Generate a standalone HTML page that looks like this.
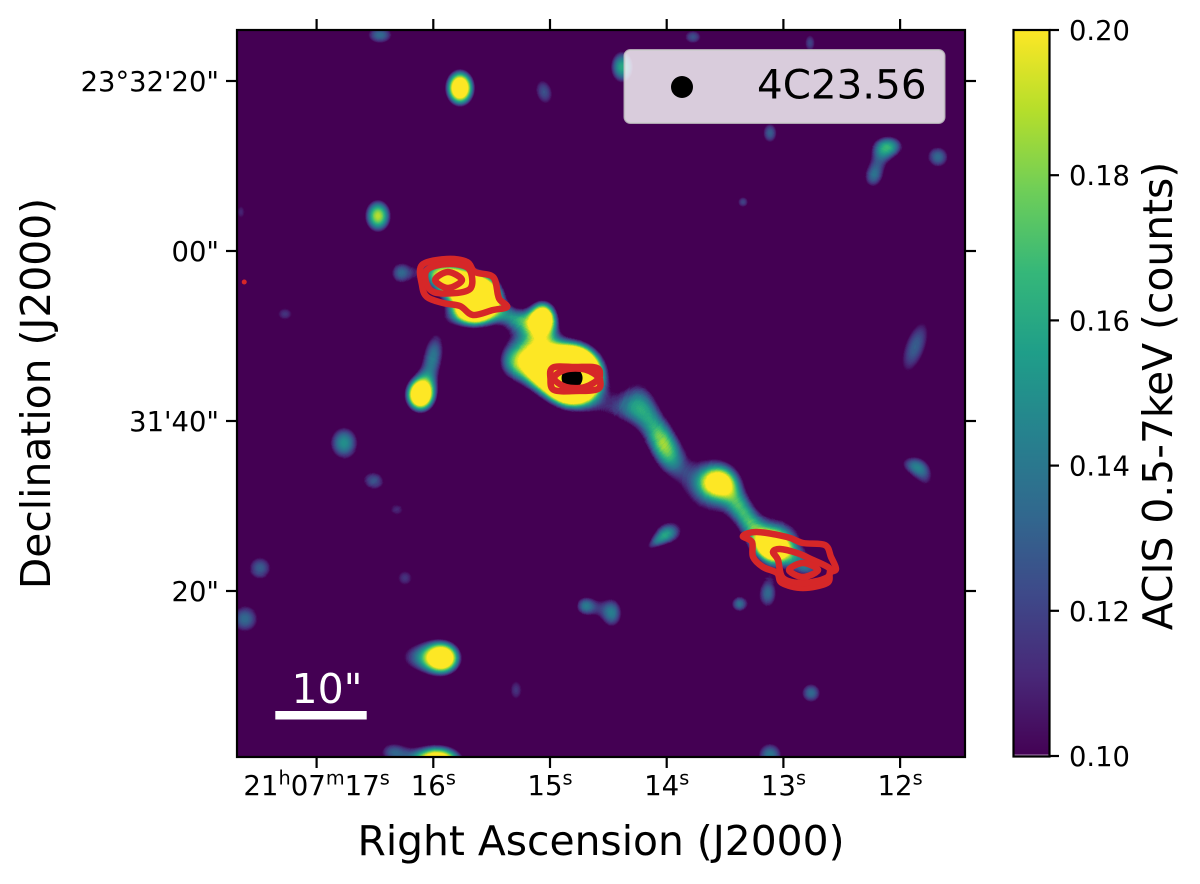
<!DOCTYPE html>
<html lang="en">
<head>
<meta charset="utf-8">
<title>4C23.56 ACIS map</title>
<style>
html,body{margin:0;padding:0;background:#fff;}
svg{display:block;font-family:"DejaVu Sans","Liberation Sans",sans-serif;}
</style>
</head>
<body>
<svg id="fig" xmlns="http://www.w3.org/2000/svg" width="1200" height="884" viewBox="0 0 1200 884">
  <defs>
    <clipPath id="plot-clip"><rect x="237" y="30" width="728" height="727"/></clipPath>
    <radialGradient id="gauss"></radialGradient>
    <linearGradient id="cbar-grad" x1="0" y1="1" x2="0" y2="0"></linearGradient>
    <filter id="viridis-map" filterUnits="userSpaceOnUse" x="237" y="30" width="728" height="727" color-interpolation-filters="sRGB">
      <feColorMatrix type="matrix" values="0 0 0 1 0  0 0 0 1 0  0 0 0 1 0  0 0 0 0 1"/>
      <feComponentTransfer>
        <feFuncR id="fr" type="table" tableValues="0 1"/>
        <feFuncG id="fg" type="table" tableValues="0 1"/>
        <feFuncB id="fb" type="table" tableValues="0 1"/>
      </feComponentTransfer>
    </filter>
  </defs>
  <rect x="0" y="0" width="1200" height="884" fill="#fff"/>
  <g clip-path="url(#plot-clip)">
    <rect x="237" y="30" width="728" height="727" fill="#440154"/>
    <g id="heat" filter="url(#viridis-map)"></g>
    <g id="marker-layer"></g>
    <g id="contours" fill="none" stroke="#d62728" stroke-width="6.5" stroke-linejoin="round"></g>
    <rect x="275.3" y="711" width="91.4" height="8.5" fill="#fff"/>
    <text x="327" y="703" text-anchor="middle" font-size="41" fill="#fff">10"</text>
    <rect x="624.5" y="50" width="320" height="73" rx="6" ry="6" fill="#fff" fill-opacity="0.8" stroke="#ccc" stroke-opacity="0.8" stroke-width="2"/>
    <circle cx="682" cy="87" r="11" fill="#000"/>
    <text x="757" y="98.5" font-size="40.4" fill="#000">4C23.56</text>
  </g>
  <rect x="237" y="30" width="728" height="727" fill="none" stroke="#000" stroke-width="2.2"/>
  <g id="x-axis"></g>
  <g id="y-axis"></g>
  <text x="601" y="855" text-anchor="middle" font-size="40.8" fill="#000">Right Ascension (J2000)</text>
  <text transform="translate(50,393.5) rotate(-90)" text-anchor="middle" font-size="40.8" fill="#000">Declination (J2000)</text>
  <rect x="1013.5" y="30" width="36" height="726.5" fill="url(#cbar-grad)"/>
  <rect x="1014.5" y="754.5" width="34" height="1" fill="#b08ab8"/>
  <rect x="1013.5" y="30" width="36" height="726.5" fill="none" stroke="#000" stroke-width="2.2"/>
  <g id="cbar-axis"></g>
  <text transform="translate(1172,396) rotate(-90)" text-anchor="middle" font-size="40.8" fill="#000">ACIS 0.5-7keV (counts)</text>
</svg>
<script>
// ---- Chart data (sky coordinates: RA seconds past 21h07m, Dec arcsec from 23d31'40") ----
const raTicks = [17, 16, 15, 14, 13, 12];
const raTickLabels = [
  [['21', 0], ['h', 1], ['07', 0], ['m', 1], ['17', 0], ['s', 1]],
  [['16', 0], ['s', 1]],
  [['15', 0], ['s', 1]],
  [['14', 0], ['s', 1]],
  [['13', 0], ['s', 1]],
  [['12', 0], ['s', 1]]
];
const decTicks = [40, 20, 0, -20];
const decTickLabels = ['23\u00B032\'20"', '00"', '31\'40"', '20"'];
const cbarTicks = [0.10, 0.12, 0.14, 0.16, 0.18, 0.20];
const cbarTickLabels = ['0.10', '0.12', '0.14', '0.16', '0.18', '0.20'];

const srcRa = [16.457,15.771,15.051,16.474,17.648,17.271,16.003,16.114,16.765,16.508,16.311,17.485,16.243,17.614,15.917,16.157,15.968,16.354,13.115,12.763,13.380,13.132,14.700,14.469,13.989,14.126,11.872,11.915,11.787,15.291,12.095,12.172,12.232,11.675,14.383,12.772,13.775,13.115,13.346,16.285,15.617,15.814,15.977,15.686,15.060,15.171,15.300,14.811,15.086,15.326,14.246,14.469,14.143,14.015,13.560,13.612,13.329,13.098,13.046,12.858,12.815];
const srcDec = [45.41,39.18,38.71,24.12,24.59,12.59,7.53,3.06,-2.59,-7.06,-10.47,-17.29,-18.47,-23.29,-27.88,-27.76,-40.12,-38.94,-39.29,-32,-21.53,-20.24,-21.76,-22.59,-13.18,-14.59,8.71,-5.18,-6.71,-31.65,32.35,30.71,28.59,31.06,41.65,44.47,45.18,33.88,25.76,17.41,14.59,16.35,17.53,12.47,12.12,10.12,12.12,5.41,6.59,6.82,2.71,1.29,0.12,-3.06,-7.18,-7.65,-11.06,-14.94,-13.41,-16.35,-17.53];
const srcSigmaEW = [1.53,1.12,1.18,1.18,.82,1.29,1.18,1.12,1.53,1.41,1.29,1.47,1.29,1.65,1.41,2.12,2,1.53,1.41,1.18,.94,1.06,1.06,1.18,1.41,1.41,1.41,1.53,1.18,1.06,1.53,1.1,1.1,1.29,1.18,.82,1.18,.94,.82,1.18,1.65,1.53,1.65,1.76,1.06,2.12,1.53,1.9,1.53,1.41,1.8,2.35,1.29,1.41,1.23,2.7,1.06,1.23,2.35,2.59,1.41];
const srcSigmaNS = [1.06,1.41,1.76,1.47,1.29,1.06,2.71,1.29,1.76,1.18,1.06,1.47,1.29,1.65,1.29,1.65,1.29,1.18,1.41,1.18,.94,1.76,1.06,1.65,1.18,.59,3.53,.94,2.12,1.65,1.06,1.41,1.29,1.29,1.65,1.29,.94,1.29,.82,1.29,1.53,1.18,1.18,1.06,1.29,1.88,.94,1.9,1.76,1.65,2.5,1.41,2.12,2.35,1.02,2.8,2.59,1.02,1.88,1.18,.82];
const srcCounts = [.135,.26,.125,.19,.11,.115,.14,.26,.15,.125,.11,.13,.115,.135,.24,.11,.26,.12,.14,.135,.135,.135,.135,.14,.125,.085,.13,.09,.095,.115,.14,.06,.115,.135,.16,.12,.125,.13,.12,.125,.40,.22,.13,.14,.24,.09,.10,.62,.22,.125,.10,.078,.045,.165,.12,.145,.12,.20,.13,.09,.06];
const srcTilt = [0,0,-15,0,0,0,10,0,0,0,0,0,0,0,0,0,0,0,0,0,0,0,0,0,0,-35,20,15,-20,0,0,20,10,0,0,0,0,0,0,0,0,0,0,0,0,0,20,0,0,0,0,0,-25,-20,0,0,-30,20,0,25,0];

const nucleusRa = [14.811];
const nucleusDec = [5.06];

const contourNeOuter = [[16.097,18.35],[15.883,19.06],[15.711,18.71],[15.643,17.53],[15.488,16.94],[15.446,14.82],[15.428,14.24],[15.368,13.41],[15.488,13.06],[15.660,12.47],[15.771,13.53],[15.917,13.88],[16.054,14.59],[16.097,16.0]];
const contourNeMid = [[16.054,17.76],[15.883,18.47],[15.703,18.0],[15.668,16.0],[15.745,15.18],[15.968,15.06],[16.054,16.0]];
const contourNeInner = [[15.985,16.59],[15.874,17.53],[15.754,16.59],[15.874,15.65]];
const contourCoreOuter = [[14.974,6.29],[14.786,6.35],[14.597,6.24],[14.572,5.06],[14.589,3.76],[14.786,3.53],[14.966,3.65],[14.996,4.94]];
const contourCoreInner = [[14.966,5.06],[14.863,6.06],[14.700,6.06],[14.589,5.06],[14.700,4.0],[14.863,4.0]];
const contourSwOuter = [[13.346,-13.53],[13.226,-13.06],[12.969,-13.65],[12.832,-14.35],[12.644,-14.59],[12.592,-16],[12.549,-17.41],[12.601,-17.88],[12.626,-19.06],[12.832,-19.65],[13.012,-19.06],[13.055,-17.88],[13.175,-17.18],[13.260,-16],[13.269,-14.24]];
const contourSwMid = [[13.089,-15.41],[13.029,-15.06],[12.883,-15.53],[12.746,-16.35],[12.635,-17.06],[12.601,-17.53],[12.635,-18.47],[12.832,-19.06],[13.003,-18.47],[13.046,-16.35]];
const contourSwInner = [[12.952,-17.53],[12.832,-16.71],[12.703,-17.53],[12.832,-18.35]];
const contourSpeck = [[17.62,16.35]];

const viridisStops = ['#440154','#482878','#3e4989','#31688e','#26828e','#1f9e89','#35b779','#6ece58','#b5de2b','#fde725'];

// ---- Axis functions ----
const xOfRa = ra => 550 - (ra - 15) * 116.7;
const yOfDec = d => 421 - d * 8.5;
const pxOfArcsec = a => a * 8.5;
const yOfCounts = c => 756 - (c - 0.1) / 0.1 * 726;
// counts -> intensity fed to the colormap filter (0.10 -> 0.15, 0.20 -> 0.30)
const intensityOfCounts = c => c * 1.5;
const BLOB_EXTENT = 3.2 * 1.15;

const NS = 'http://www.w3.org/2000/svg';
function mk(tag, attrs, parent) {
  const el = document.createElementNS(NS, tag);
  for (const k in attrs) el.setAttribute(k, attrs[k]);
  parent.appendChild(el);
  return el;
}
function hexToRgb(h) {
  return [parseInt(h.slice(1,3),16)/255, parseInt(h.slice(3,5),16)/255, parseInt(h.slice(5,7),16)/255];
}
// Closed Catmull-Rom curve through the projected contour vertices
function smoothClosed(pts) {
  const n = pts.length;
  let d = 'M' + pts[0][0].toFixed(1) + ' ' + pts[0][1].toFixed(1);
  for (let i = 0; i < n; i++) {
    const p0 = pts[(i - 1 + n) % n], p1 = pts[i], p2 = pts[(i + 1) % n], p3 = pts[(i + 2) % n];
    const c1x = p1[0] + (p2[0] - p0[0]) / 6, c1y = p1[1] + (p2[1] - p0[1]) / 6;
    const c2x = p2[0] - (p3[0] - p1[0]) / 6, c2y = p2[1] - (p3[1] - p1[1]) / 6;
    d += 'C' + c1x.toFixed(1) + ' ' + c1y.toFixed(1) + ' ' + c2x.toFixed(1) + ' ' + c2y.toFixed(1) + ' ' + p2[0].toFixed(1) + ' ' + p2[1].toFixed(1);
  }
  return d + 'Z';
}

// Colormap transfer table: below intensity .15 flat purple, .15-.30 viridis, above flat yellow
(function buildColormap() {
  const N = 80, r = [], g = [], b = [];
  for (let i = 0; i <= N; i++) {
    const t = Math.min(1, Math.max(0, (i / N - 0.15) / 0.15)) * (viridisStops.length - 1);
    const i0 = Math.min(viridisStops.length - 2, Math.floor(t));
    const f = t - i0;
    const c0 = hexToRgb(viridisStops[i0]), c1 = hexToRgb(viridisStops[i0 + 1]);
    r.push((c0[0] + (c1[0] - c0[0]) * f).toFixed(4));
    g.push((c0[1] + (c1[1] - c0[1]) * f).toFixed(4));
    b.push((c0[2] + (c1[2] - c0[2]) * f).toFixed(4));
  }
  document.getElementById('fr').setAttribute('tableValues', r.join(' '));
  document.getElementById('fg').setAttribute('tableValues', g.join(' '));
  document.getElementById('fb').setAttribute('tableValues', b.join(' '));
  const gauss = document.getElementById('gauss');
  for (let i = 0; i <= 24; i++) {
    const t = i / 24;
    mk('stop', {offset: t, 'stop-color': '#fff', 'stop-opacity': Math.exp(-Math.pow(t * 3.2, 2) / 2).toFixed(4)}, gauss);
  }
  const cg = document.getElementById('cbar-grad');
  viridisStops.forEach((c, i) => {
    mk('stop', {offset: i / (viridisStops.length - 1), 'stop-color': c}, cg);
  });
})();

// Heatmap emission components
const heat = document.getElementById('heat');
srcRa.forEach((ra, i) => {
  const cx = xOfRa(ra), cy = yOfDec(srcDec[i]);
  const el = mk('ellipse', {
    cx: cx, cy: cy,
    rx: pxOfArcsec(srcSigmaEW[i]) * BLOB_EXTENT,
    ry: pxOfArcsec(srcSigmaNS[i]) * BLOB_EXTENT,
    fill: 'url(#gauss)',
    opacity: Math.min(1, intensityOfCounts(srcCounts[i])),
    transform: 'rotate(' + srcTilt[i] + ' ' + cx + ' ' + cy + ')'
  }, heat);
  
  
});

// Nucleus marker
const mLayer = document.getElementById('marker-layer');
nucleusRa.forEach((ra, i) => {
  const el = mk('circle', {cx: xOfRa(ra), cy: yOfDec(nucleusDec[i]), r: 10.5, fill: '#000'}, mLayer);
  
  
});

// Contours
const cLayer = document.getElementById('contours');
[contourNeOuter, contourNeMid, contourNeInner, contourCoreOuter, contourCoreInner, contourSwOuter, contourSwMid, contourSwInner].forEach(pts => {
  const el = mk('path', {d: smoothClosed(pts.map(p => [xOfRa(p[0]), yOfDec(p[1])]))}, cLayer);
  
  
});
contourSpeck.forEach(p => {
  const el = mk('circle', {cx: xOfRa(p[0]), cy: yOfDec(p[1]), r: 2.5, fill: '#d62728', stroke: 'none'}, cLayer);
  
  
});

// X axis
const xAxis = document.getElementById('x-axis');
raTicks.forEach((ra, i) => {
  const x = xOfRa(ra);
  const t1 = mk('line', {x1: x, x2: x, y1: 757, y2: 768, stroke: '#000', 'stroke-width': 2.2}, xAxis);
  
  
  const t2 = mk('line', {x1: x, x2: x, y1: 30, y2: 19, stroke: '#000', 'stroke-width': 2.2}, xAxis);
  
  
  const lab = mk('text', {x: x, y: 795, 'text-anchor': 'middle', 'font-size': 27.6, fill: '#000'}, xAxis);
  
  
  let raised = false;
  raTickLabels[i].forEach(part => {
    const attrs = {};
    if (part[1] && !raised) { attrs.dy = -10.5; attrs['font-size'] = 19.3; raised = true; }
    else if (!part[1] && raised) { attrs.dy = 10.5; raised = false; }
    else if (part[1]) { attrs['font-size'] = 19.3; }
    const sp = mk('tspan', attrs, lab);
    sp.textContent = part[0];
  });
});

// Y axis
const yAxis = document.getElementById('y-axis');
decTicks.forEach((d, i) => {
  const y = yOfDec(d);
  const t1 = mk('line', {x1: 226, x2: 237, y1: y, y2: y, stroke: '#000', 'stroke-width': 2.2}, yAxis);
  
  
  const t2 = mk('line', {x1: 965, x2: 976, y1: y, y2: y, stroke: '#000', 'stroke-width': 2.2}, yAxis);
  
  
  const lab = mk('text', {x: 219, y: y + 10, 'text-anchor': 'end', 'font-size': 27.4, fill: '#000'}, yAxis);
  
  
  lab.textContent = decTickLabels[i];
});

// Colorbar axis
const cAxis = document.getElementById('cbar-axis');
cbarTicks.forEach((c, i) => {
  const y = yOfCounts(c);
  const t = mk('line', {x1: 1049.5, x2: 1059, y1: y, y2: y, stroke: '#000', 'stroke-width': 2.2}, cAxis);
  
  
  const lab = mk('text', {x: 1069, y: y + 10, 'font-size': 27.4, fill: '#000'}, cAxis);
  
  
  lab.textContent = cbarTickLabels[i];
});
</script>
</body>
</html>
